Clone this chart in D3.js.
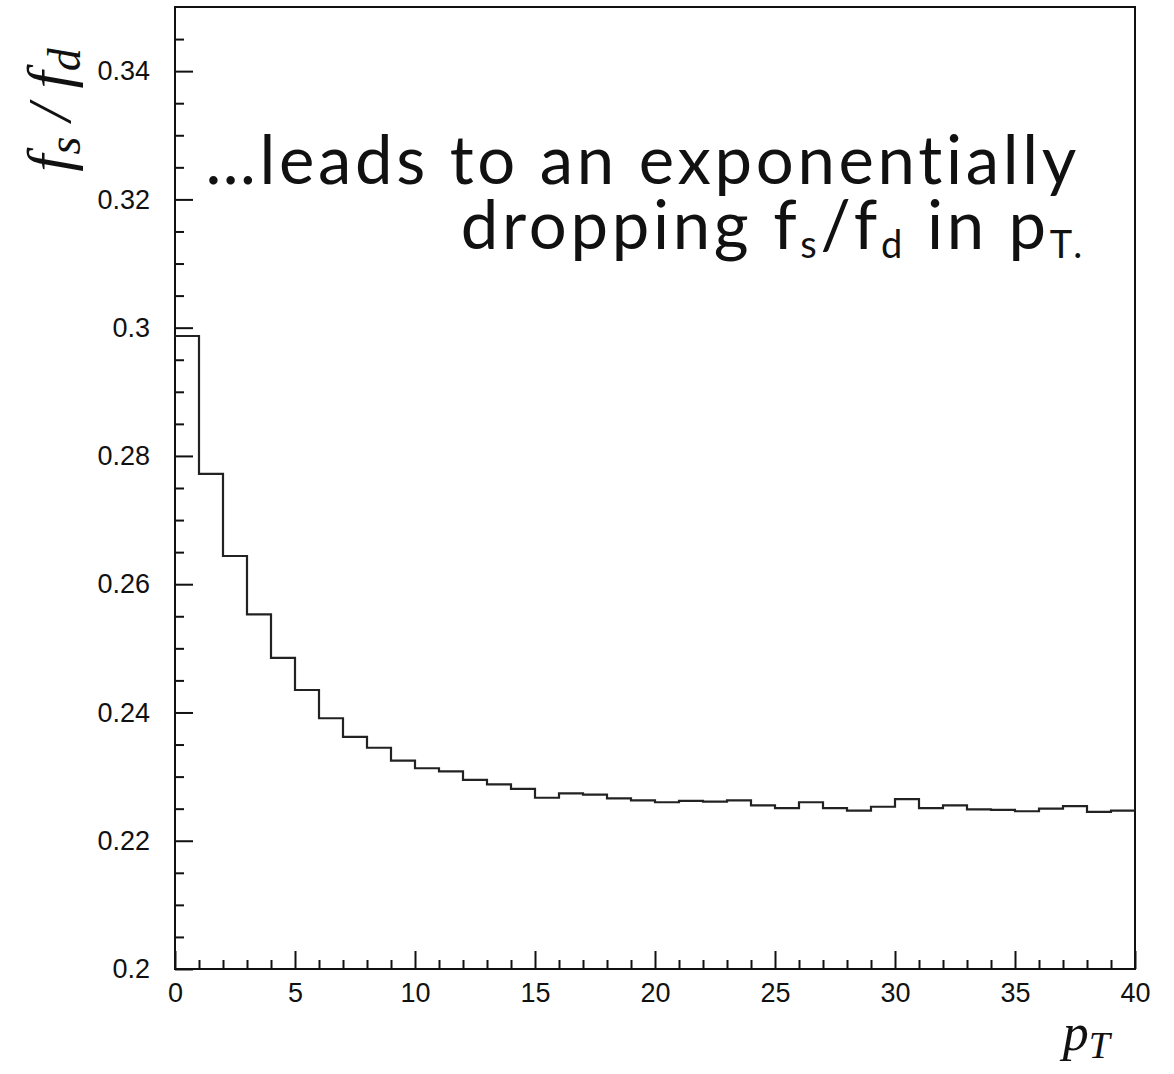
<!DOCTYPE html>
<html>
<head>
<meta charset="utf-8">
<script src="https://cdn.jsdelivr.net/npm/d3@7"></script>
<style>
  body { margin: 0; background: #fff; }
  .axis text { font-family: "Liberation Sans", Arial, sans-serif; font-size: 27px; fill: #111; }
  .axis line, .axis path { stroke: #111; stroke-width: 2; }
  .frame { fill: none; stroke: #111; stroke-width: 2; }
  .hist { fill: none; stroke: #222; stroke-width: 2.2; }
  .note { font-family: Lato, "Open Sans", sans-serif; font-size: 67px; letter-spacing: 3.7px; fill: #111; }
  .math { font-family: "Liberation Serif", "DejaVu Serif", serif; font-style: italic; fill: #111; }
</style>
</head>
<body>
<script>
// pT bin edges (41 edges -> 40 bins)
var ptEdges = [0,1,2,3,4,5,6,7,8,9,10,11,12,13,14,15,16,17,18,19,20,
               21,22,23,24,25,26,27,28,29,30,31,32,33,34,35,36,37,38,39,40];

// fs/fd per bin
var fsfd = [0.2987,0.2772,0.2644,0.2553,0.2485,0.2435,0.2391,0.2362,0.2345,0.2325,
            0.2313,0.2308,0.2295,0.2288,0.2281,0.2267,0.2274,0.2272,0.2266,0.2263,
            0.2260,0.2262,0.2261,0.2263,0.2255,0.2251,0.2260,0.2251,0.2247,0.2253,
            0.2265,0.2251,0.2255,0.2249,0.2248,0.2246,0.2250,0.2254,0.2245,0.2247];

var xMajor = [0,5,10,15,20,25,30,35,40];
var xLabels = ["0","5","10","15","20","25","30","35","40"];
var xMinor = [1,2,3,4,6,7,8,9,11,12,13,14,16,17,18,19,21,22,23,24,26,27,28,29,31,32,33,34,36,37,38,39];

var yMajor = [0.2,0.22,0.24,0.26,0.28,0.3,0.32,0.34];
var yLabels = ["0.2","0.22","0.24","0.26","0.28","0.3","0.32","0.34"];
var yMinor = [0.205,0.21,0.215,0.225,0.23,0.235,0.245,0.25,0.255,0.265,0.27,0.275,
              0.285,0.29,0.295,0.305,0.31,0.315,0.325,0.33,0.335,0.345];

var width = 1174, height = 1074;
var plot = {left: 175, right: 1135, top: 7, bottom: 969};

var svg = d3.select("body").append("svg")
    .attr("width", width)
    .attr("height", height);

var x = d3.scaleLinear()
    .domain([0, 40])
    .range([plot.left, plot.right]);

var y = d3.scaleLinear()
    .domain([0.2, 0.35])
    .range([plot.bottom, plot.top]);

// minor ticks first
svg.append("g")
    .attr("class", "axis")
    .attr("transform", "translate(0," + plot.bottom + ")")
    .call(d3.axisBottom(x).tickValues(xMinor).tickSize(-9).tickFormat(""))
    .select(".domain").remove();

svg.append("g")
    .attr("class", "axis")
    .attr("transform", "translate(" + plot.left + ",0)")
    .call(d3.axisLeft(y).tickValues(yMinor).tickSize(-9).tickFormat(""))
    .select(".domain").remove();

// major ticks + labels
svg.append("g")
    .attr("class", "axis")
    .attr("transform", "translate(0," + plot.bottom + ")")
    .call(d3.axisBottom(x).tickValues(xMajor).tickSizeInner(-18).tickSizeOuter(0)
      .tickPadding(14).tickFormat(function(d, i) { return xLabels[i]; }))
    .select(".domain").remove();

svg.append("g")
    .attr("class", "axis")
    .attr("transform", "translate(" + plot.left + ",0)")
    .call(d3.axisLeft(y).tickValues(yMajor).tickSizeInner(-18).tickSizeOuter(0)
      .tickPadding(25).tickFormat(function(d, i) { return yLabels[i]; }))
    .select(".domain").remove();

// frame
svg.append("rect")
    .attr("class", "frame")
    .attr("x", x(0))
    .attr("y", y(0.35))
    .attr("width", x(40) - x(0))
    .attr("height", y(0.2) - y(0.35));

// histogram as a step line
var pts = fsfd.map(function(v, i) { return [ptEdges[i], v]; });
pts.push([ptEdges[ptEdges.length - 1], fsfd[fsfd.length - 1]]);

var line = d3.line()
    .curve(d3.curveStepAfter)
    .x(function(d) { return x(d[0]); })
    .y(function(d) { return y(d[1]); });

svg.append("path")
    .datum(pts)
    .attr("class", "hist")
    .attr("d", line);

// axis titles
var yt = svg.append("text")
    .attr("class", "math")
    .attr("transform", "translate(70,110) rotate(-90)")
    .attr("text-anchor", "middle")
    .style("font-size", "62px");
yt.append("tspan").text("f");
yt.append("tspan").attr("dy", 10).style("font-size", "46px").text("s");
yt.append("tspan").attr("dy", -10).text(" / f");
yt.append("tspan").attr("dy", 10).style("font-size", "46px").text("d");

var xt = svg.append("text")
    .attr("class", "math")
    .attr("x", 1110)
    .attr("y", 1050)
    .attr("text-anchor", "end")
    .style("font-size", "52px");
xt.append("tspan").text("p");
xt.append("tspan").attr("dy", 8).style("font-size", "38px").text("T");

// annotation, two lines in one text block
var note = svg.append("text")
    .attr("class", "note")
    .attr("text-anchor", "end")
    .attr("y", 184);
note.append("tspan").attr("x", 1080).text("\u2026leads to an exponentially");
note.append("tspan").attr("x", 1086).attr("y", 249).text("dropping f");
note.append("tspan").attr("dy", 9).style("font-size", "38px").text("s");
note.append("tspan").attr("dy", -9).text("/f");
note.append("tspan").attr("dy", 9).style("font-size", "38px").text("d");
note.append("tspan").attr("dy", -9).text(" in p");
note.append("tspan").attr("dy", 9).style("font-size", "38px").text("T.");
</script>
</body>
</html>
